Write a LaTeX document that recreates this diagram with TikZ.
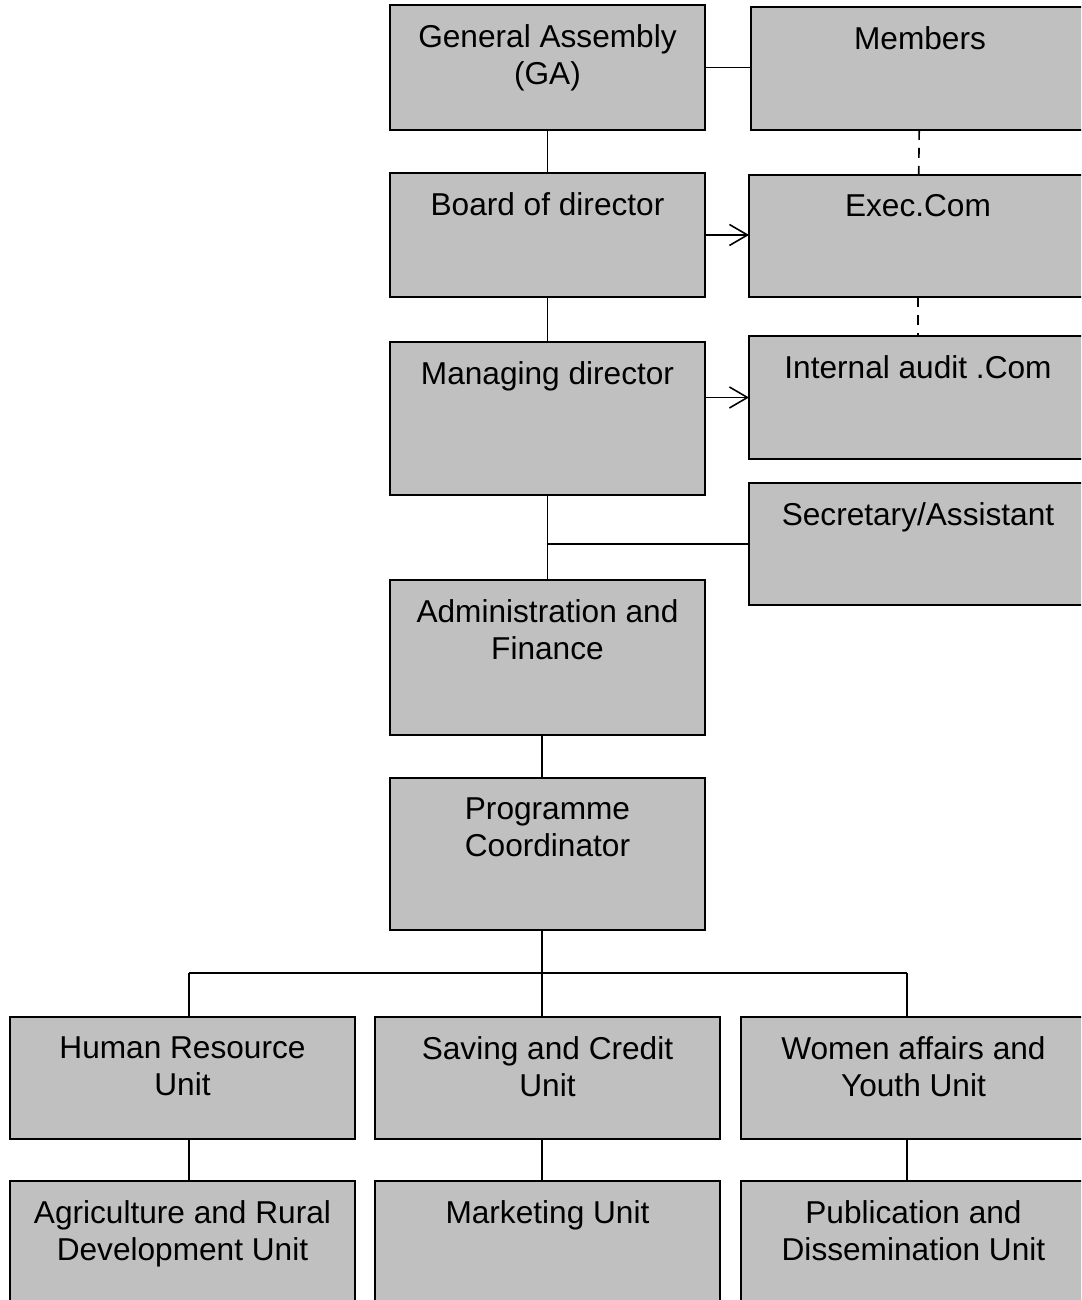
\documentclass[tikz,border=0pt]{standalone}
\usepackage{fontspec}
\setmainfont{Liberation Sans}
\usetikzlibrary{arrows.meta,calc,positioning}
\definecolor{boxgray}{HTML}{C0C0C0}

\begin{document}
\begin{tikzpicture}[x=0.02cm,y=-0.02cm,
  box/.style={draw,fill=boxgray,line width=1.3pt,anchor=north west,
    inner sep=0pt,outer sep=0pt},
  midbox/.style={box,minimum width=6.3cm},
  sidebox/.style={box,minimum width=6.76cm},
  unitbox/.style={box,minimum width=6.9cm,minimum height=2.44cm},
  txt/.style={anchor=north,align=center,inner sep=0pt,yshift=-0.38cm,
    font=\fontsize{18}{21}\selectfont},
  link/.style={line width=0.9pt},
  dotlink/.style={link,dash pattern=on 0.2cm off 0.16cm},
  >={Straight Barb[length=0.36cm,width=0.42cm]}]
\useasboundingbox (0,0) rectangle (1081,1300);
\clip (0,0) rectangle (1081,1300);

% centre column
\node[midbox,minimum height=2.5cm,label={[txt]north:{General Assembly\\(GA)}}] (ga) at (390,5) {};
\node[midbox,minimum height=2.48cm,label={[txt]north:Board of director}] (board) at (390,173) {};
\node[midbox,minimum height=3.06cm,label={[txt]north:Managing director}] (md) at (390,342) {};
\node[midbox,minimum height=3.1cm,label={[txt]north:{Administration and\\Finance}}] (admin) at (390,580) {};
\node[midbox,minimum height=3.04cm,label={[txt]north:{Programme\\Coordinator}}] (prog) at (390,778) {};

% right column
\node[sidebox,minimum height=2.46cm,label={[txt]north:Members}] (members) at (751,7) {};
\node[sidebox,minimum height=2.44cm,label={[txt]north:Exec.Com}] (exec) at (749,175) {};
\node[sidebox,minimum height=2.46cm,label={[txt]north:Internal audit .Com}] (audit) at (749,336) {};
\node[sidebox,minimum height=2.44cm,label={[txt]north:Secretary/Assistant}] (sec) at (749,483) {};

% units
\node[unitbox,label={[txt]north:{Human Resource\\Unit}}] (hr) at (10,1017) {};
\node[unitbox,label={[txt]north:{Saving and Credit\\Unit}}] (saving) at (375,1017) {};
\node[unitbox,label={[txt]north:{Women affairs and\\Youth Unit}}] (women) at (741,1017) {};
\node[unitbox,minimum height=2.8cm,label={[txt]north:{Agriculture and Rural\\Development Unit}}] (agri) at (10,1181) {};
\node[unitbox,minimum height=2.8cm,label={[txt]north:Marketing Unit}] (market) at (375,1181) {};
\node[unitbox,minimum height=2.8cm,label={[txt]north:{Publication and\\Dissemination Unit}}] (pub) at (741,1181) {};

\coordinate (hub) at (542,973);
\coordinate (hubL) at (189,973);
\coordinate (hubR) at (907,973);

\draw[link] (ga.east) -- (ga.east -| members.west);
\draw[link] (ga) -- (board);
\draw[link] (board) -- (md);
\draw[link,->] (board.east) -- (board.east -| exec.west);
\draw[link,->] (md.east |- audit.west) -- (audit.west);
\draw[dotlink] (members) -- (exec);
\draw[dotlink] (exec) -- (audit);
\draw[link] (md.south) -- (admin.north);
\draw[link] (md.south |- sec.west) -- (sec.west);
\draw[link] (admin.south -| hub) -- (prog.north -| hub);
\draw[link] (prog.south -| hub) -- (hub);
\draw[link] (hubL) -- (hubR);
\draw[link] (hubL) -- (hubL |- hr.north);
\draw[link] (hub) -- (hub |- saving.north);
\draw[link] (hubR) -- (hubR |- women.north);
\draw[link] (hubL |- hr.south) -- (hubL |- agri.north);
\draw[link] (hub |- saving.south) -- (hub |- market.north);
\draw[link] (hubR |- women.south) -- (hubR |- pub.north);
\end{tikzpicture}
\end{document}
